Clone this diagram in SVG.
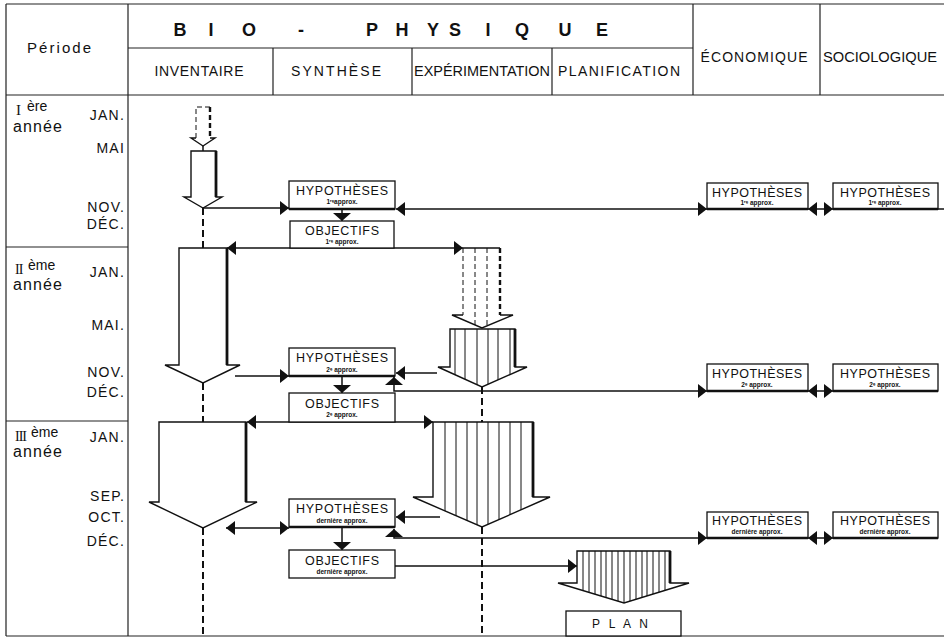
<svg xmlns="http://www.w3.org/2000/svg" width="944" height="639" viewBox="0 0 944 639">
<style>
  .t{font-family:"Liberation Sans","DejaVu Sans",sans-serif;fill:#111}
  .rn{font-family:"Liberation Serif","DejaVu Serif",serif;fill:#111}
  .grid{stroke:#222;stroke-width:1.2;fill:none}
  .box{fill:#fff;stroke:#111;stroke-width:1.3}
  .base{stroke:#111;stroke-width:2.4}
  .con{stroke:#111;stroke-width:1.5;fill:none}
  .dash{stroke:#111;stroke-width:2;stroke-dasharray:7 4;fill:none}
  .dthin{stroke:#111;stroke-width:1;stroke-dasharray:5 3;fill:none}
  .dthick{stroke:#111;stroke-width:2.4;stroke-dasharray:5 3;fill:none}
  .ol{fill:none;stroke:#111;stroke-width:1.4;stroke-linejoin:miter}
  .arw{fill:#fff;stroke:#111;stroke-width:1.4;stroke-linejoin:miter}
  .bg{fill:#fff;stroke:none}
  .edge{stroke:#111;stroke-width:2.8}
  .hatch{stroke:#111;stroke-width:1}
  .h{font-size:12.5px;text-anchor:middle}
  .s{font-size:6.5px;font-weight:bold;text-anchor:middle}
  .m{font-size:14px;letter-spacing:1.2px;text-anchor:end}
  .hd{font-size:14px;text-anchor:middle}
  .big{font-size:18px;font-weight:bold;text-anchor:middle}
</style>
<defs>
  <marker id="ah" viewBox="0 0 9 14" refX="9" refY="7" markerUnits="userSpaceOnUse" markerWidth="9" markerHeight="14" orient="auto-start-reverse">
    <path d="M0,0 L9,7 L0,14 z" fill="#111"/>
  </marker>
  <marker id="av" viewBox="0 0 8 18" refX="8" refY="9" markerUnits="userSpaceOnUse" markerWidth="8" markerHeight="18" orient="auto">
    <path d="M0,0 L8,9 L0,18 z" fill="#111"/>
  </marker>
  <clipPath id="cE1"><polygon points="463,248 500,248 500,315 513,315 482,328 452,315 463,315"/></clipPath>
  <clipPath id="cE2"><polygon points="450,329 515,329 515,367 527,367 482,387 438,367 450,367"/></clipPath>
  <clipPath id="cE3"><polygon points="433,422 533,422 533,497 550,497 482,527 413,497 433,497"/></clipPath>
  <clipPath id="cP"><polygon points="577,551 670,551 670,583 689,583 624,603 558,583 577,583"/></clipPath>
</defs>

<rect width="944" height="639" fill="#fff"/>

<!-- table frame -->
<g id="table" class="grid">
  <path d="M6,4H944 M6,95H944 M6,636H944 M6,4V636 M128,4V636"/>
  <path d="M128,48H693 M693,4V95 M820,4V95 M273,48V95 M412,48V95 M552,48V95"/>
  <path d="M6,247H128 M6,421H128"/>
</g>

<!-- header labels -->
<g id="header" class="t">
  <text x="59" y="53" font-size="15" text-anchor="middle" textLength="64" lengthAdjust="spacing">Période</text>
  <text class="big" y="36" x="180 195 211 230 249 275 301 336 372 387 402 417 433 444 455 471 488 505 522 543 565 583 602">B I O - P H Y S I Q U E</text>
  <text class="hd" x="199" y="76" textLength="89" lengthAdjust="spacing">INVENTAIRE</text>
  <text class="hd" x="336" y="76" textLength="90" lengthAdjust="spacing">SYNTHÈSE</text>
  <text class="hd" x="482" y="76" textLength="136" lengthAdjust="spacingAndGlyphs">EXPÉRIMENTATION</text>
  <text class="hd" x="619" y="76" textLength="122" lengthAdjust="spacing">PLANIFICATION</text>
  <text class="hd" x="754" y="62" font-size="14.5" textLength="107" lengthAdjust="spacing">ÉCONOMIQUE</text>
  <text class="hd" x="880" y="62" font-size="14.5" textLength="114" lengthAdjust="spacingAndGlyphs">SOCIOLOGIQUE</text>
</g>

<!-- period column -->
<g id="periods" class="t">
  <text class="rn" x="16" y="115" font-size="15">I</text>
  <text x="27" y="111" font-size="14">ère</text>
  <text x="13" y="132" font-size="16" textLength="49" lengthAdjust="spacing">année</text>
  <text class="m" x="125" y="120">JAN.</text>
  <text class="m" x="125" y="153">MAI</text>
  <text class="m" x="125" y="212">NOV.</text>
  <text class="m" x="125" y="229">DÉC.</text>

  <text class="rn" x="15" y="274" font-size="14" letter-spacing="-1">II</text>
  <text x="28" y="270" font-size="14">ème</text>
  <text x="13" y="290" font-size="16" textLength="49" lengthAdjust="spacing">année</text>
  <text class="m" x="125" y="277">JAN.</text>
  <text class="m" x="125" y="330">MAI.</text>
  <text class="m" x="125" y="377">NOV.</text>
  <text class="m" x="125" y="397">DÉC.</text>

  <text class="rn" x="15" y="441" font-size="14" letter-spacing="-1">III</text>
  <text x="31" y="437" font-size="14">ème</text>
  <text x="13" y="457" font-size="16" textLength="49" lengthAdjust="spacing">année</text>
  <text class="m" x="125" y="442">JAN.</text>
  <text class="m" x="125" y="501">SEP.</text>
  <text class="m" x="125" y="522">OCT.</text>
  <text class="m" x="125" y="546">DÉC.</text>
</g>

<!-- continuity lines of the two streams -->
<g id="streams" class="dash">
  <path d="M203,208V248 M203,383V422 M203,528V636"/>
  <path d="M482,387V422 M482,527V636"/>
</g>

<!-- inventory arrows -->
<g id="inv-0">
  <polygon class="bg" points="196,107 210,107 210,138 215,138 203,146 191,138 196,138"/>
  <path class="dthin" d="M196,138V107H210"/>
  <path class="dthick" d="M210,107V138"/>
  <path class="ol" d="M196,138H191L203,146L215,138H210"/>
  <path class="con" d="M203,146V151"/>
</g>
<g id="inv-1">
  <polygon class="arw" points="191,151 216,151 216,197 222,197 203,208 184,197 191,197"/>
  <path class="edge" d="M216,151V197"/>
</g>
<g id="inv-2">
  <polygon class="arw" points="179,248 227,248 227,365 240,365 203,383 165,365 179,365"/>
  <path class="edge" d="M227,248V365"/>
</g>
<g id="inv-3">
  <polygon class="arw" points="159,422 246,422 246,502 257,502 203,528 149,502 159,502"/>
  <path class="edge" d="M246,422V502"/>
</g>

<!-- experimentation arrows -->
<g id="exp-1">
  <polygon class="bg" points="463,248 500,248 500,315 513,315 482,328 452,315 463,315"/>
  <g clip-path="url(#cE1)"><path class="dthin" d="M475,248V328 M487,248V328"/></g>
  <path class="dthin" d="M463,248V315"/>
  <path class="dthick" d="M500,248V315"/>
  <path class="ol" d="M463,248H500 M463,315H452L482,328L513,315H500"/>
</g>
<g id="exp-2">
  <polygon class="bg" points="450,329 515,329 515,367 527,367 482,387 438,367 450,367"/>
  <g clip-path="url(#cE2)" class="hatch"><path d="M455,329V390 M465,329V390 M477,329V390 M488,329V390 M498,329V390 M510,329V390"/></g>
  <polygon class="ol" points="450,329 515,329 515,367 527,367 482,387 438,367 450,367"/>
  <path class="edge" d="M515,329V367"/>
</g>
<g id="exp-3">
  <polygon class="bg" points="433,422 533,422 533,497 550,497 482,527 413,497 433,497"/>
  <g clip-path="url(#cE3)" class="hatch"><path d="M445,422V530 M456,422V530 M467,422V530 M477,422V530 M488,422V530 M499,422V530 M510,422V530 M521,422V530"/></g>
  <polygon class="ol" points="433,422 533,422 533,497 550,497 482,527 413,497 433,497"/>
  <path class="edge" d="M533,422V497"/>
</g>

<!-- plan arrow and box -->
<g id="plan-arrow">
  <polygon class="bg" points="577,551 670,551 670,583 689,583 624,603 558,583 577,583"/>
  <g clip-path="url(#cP)" class="hatch"><path d="M583,551V605 M589,551V605 M595,551V605 M601,551V605 M606,551V605 M612,551V605 M618,551V605 M624,551V605 M630,551V605 M636,551V605 M642,551V605 M647,551V605 M653,551V605 M659,551V605 M665,551V605"/></g>
  <polygon class="ol" points="577,551 670,551 670,583 689,583 624,603 558,583 577,583"/>
  <path class="edge" d="M670,551V583"/>
</g>
<g id="plan">
  <rect class="box" x="566" y="611" width="115" height="25"/>
  <text class="t" x="592" y="628" font-size="12" textLength="56" lengthAdjust="spacing">P L A N</text>
</g>

<!-- connectors -->
<g id="connectors" class="con">
  <path d="M203,208H289" marker-end="url(#ah)"/>
  <path d="M396,209H707" marker-start="url(#ah)" marker-end="url(#ah)"/>
  <path d="M808,209H833" marker-start="url(#ah)" marker-end="url(#ah)"/>
  <path d="M938,209H944"/>
  <path d="M342,209V221" marker-end="url(#av)"/>
  <path d="M227,248H463" marker-start="url(#ah)" marker-end="url(#ah)"/>

  <path d="M235,376H289" marker-end="url(#ah)"/>
  <path d="M437,373H396" marker-end="url(#ah)"/>
  <path d="M707,391H394V377" marker-start="url(#ah)" marker-end="url(#av)"/>
  <path d="M808,391H833" marker-start="url(#ah)" marker-end="url(#ah)"/>
  <path d="M342,376V393" marker-end="url(#av)"/>
  <path d="M247,422H433" marker-start="url(#ah)" marker-end="url(#ah)"/>

  <path d="M226,528H289" marker-start="url(#ah)" marker-end="url(#ah)"/>
  <path d="M440,517H396" marker-end="url(#ah)"/>
  <path d="M707,538H394V529" marker-start="url(#ah)" marker-end="url(#av)"/>
  <path d="M808,538H833" marker-start="url(#ah)" marker-end="url(#ah)"/>
  <path d="M342,527V550" marker-end="url(#av)"/>
  <path d="M395,566H577" marker-end="url(#ah)"/>
</g>

<!-- bio-physical hypothesis / objective boxes -->
<g id="hyp-1">
  <rect class="box" x="289" y="181" width="106" height="28"/>
  <path class="base" d="M289,209H395"/>
  <text class="t h" x="342" y="195" textLength="92" lengthAdjust="spacing">HYPOTHÈSES</text>
  <text class="t s" x="342" y="204">1ʳᵉapprox.</text>
</g>
<g id="obj-1">
  <rect class="box" x="290" y="221" width="104" height="27"/>
  <text class="t h" x="342" y="235" textLength="74" lengthAdjust="spacing">OBJECTIFS</text>
  <text class="t s" x="342" y="244">1ʳᵉ approx.</text>
</g>
<g id="hyp-2">
  <rect class="box" x="289" y="348" width="106" height="28"/>
  <path class="base" d="M289,376H395"/>
  <text class="t h" x="342" y="362" textLength="92" lengthAdjust="spacing">HYPOTHÈSES</text>
  <text class="t s" x="342" y="372">2ᵉ approx.</text>
</g>
<g id="obj-2">
  <rect class="box" x="289" y="393" width="106" height="29"/>
  <text class="t h" x="342" y="408" textLength="74" lengthAdjust="spacing">OBJECTIFS</text>
  <text class="t s" x="342" y="417">2ᵉ approx.</text>
</g>
<g id="hyp-3">
  <rect class="box" x="289" y="499" width="106" height="28"/>
  <path class="base" d="M289,527H395"/>
  <text class="t h" x="342" y="513" textLength="92" lengthAdjust="spacing">HYPOTHÈSES</text>
  <text class="t s" x="342" y="523">dernière   approx.</text>
</g>
<g id="obj-3">
  <rect class="box" x="289" y="550" width="106" height="28"/>
  <text class="t h" x="342" y="565" textLength="74" lengthAdjust="spacing">OBJECTIFS</text>
  <text class="t s" x="342" y="574">dernière  approx.</text>
</g>

<!-- economic and sociological hypothesis boxes -->
<g id="eco-1">
  <rect class="box" x="707" y="183" width="101" height="26"/>
  <path class="base" d="M707,209H808"/>
  <text class="t h" x="757" y="197" font-size="12.5" textLength="90" lengthAdjust="spacing">HYPOTHÈSES</text>
  <text class="t s" x="757" y="205" font-size="6">1ʳᵉ approx.</text>
</g>
<g id="soc-1">
  <rect class="box" x="833" y="183" width="105" height="26"/>
  <path class="base" d="M833,209H938"/>
  <text class="t h" x="885" y="197" font-size="12.5" textLength="90" lengthAdjust="spacing">HYPOTHÈSES</text>
  <text class="t s" x="885" y="205" font-size="6">1ʳᵉ approx.</text>
</g>
<g id="eco-2">
  <rect class="box" x="707" y="364" width="101" height="27"/>
  <path class="base" d="M707,391H808"/>
  <text class="t h" x="757" y="378" font-size="12.5" textLength="90" lengthAdjust="spacing">HYPOTHÈSES</text>
  <text class="t s" x="757" y="387" font-size="6">2ᵉ approx.</text>
</g>
<g id="soc-2">
  <rect class="box" x="833" y="364" width="105" height="27"/>
  <path class="base" d="M833,391H938"/>
  <text class="t h" x="885" y="378" font-size="12.5" textLength="90" lengthAdjust="spacing">HYPOTHÈSES</text>
  <text class="t s" x="885" y="387" font-size="6">2ᵉ approx.</text>
</g>
<g id="eco-3">
  <rect class="box" x="707" y="512" width="101" height="26"/>
  <path class="base" d="M707,538H808"/>
  <text class="t h" x="757" y="525" font-size="12.5" textLength="90" lengthAdjust="spacing">HYPOTHÈSES</text>
  <text class="t s" x="757" y="534" font-size="6">dernière  approx.</text>
</g>
<g id="soc-3">
  <rect class="box" x="833" y="512" width="105" height="26"/>
  <path class="base" d="M833,538H938"/>
  <text class="t h" x="885" y="525" font-size="12.5" textLength="90" lengthAdjust="spacing">HYPOTHÈSES</text>
  <text class="t s" x="885" y="534" font-size="6">dernière  approx.</text>
</g>
</svg>
